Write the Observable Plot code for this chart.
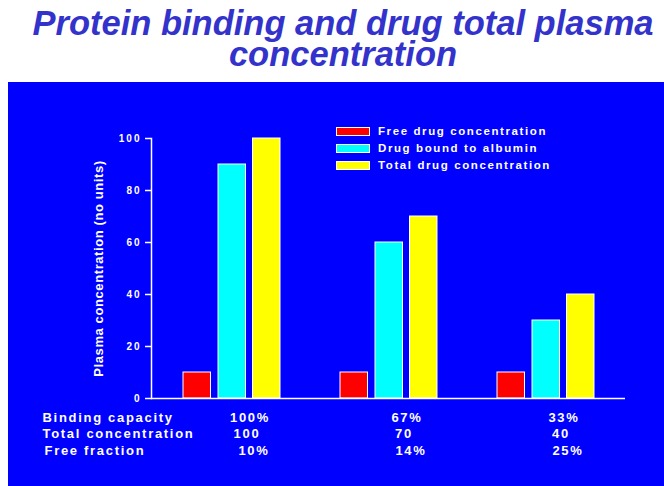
<!DOCTYPE html>
<html>
<head>
<meta charset="utf-8">
<script src="https://cdn.jsdelivr.net/npm/d3@7"></script>
<script src="https://cdn.jsdelivr.net/npm/@observablehq/plot@0.6"></script>
<style>
  html, body { margin: 0; padding: 0; background: #ffffff; }
  body { width: 664px; height: 486px; position: relative; overflow: hidden;
         font-family: "Liberation Sans", Arial, sans-serif; }
  #title { position: absolute; left: 22px; top: 7.5px; width: 642px; text-align: center;
           color: #3333cc; font-weight: bold; font-style: italic; font-size: 34.5px; line-height: 31px; }
  #panel { position: absolute; left: 8px; top: 82px; width: 656px; height: 404px; background: #0000ff; }
  #panel svg { display: block; }
  .swatch { position: absolute; width: 34px; height: 9px; box-sizing: border-box; border: 1px solid #ffffff; }
  .legend-label { position: absolute; height: 14px; line-height: 14px; color: #ffffff; font-weight: bold;
                  font-size: 11.5px; letter-spacing: 1.6px; white-space: nowrap; }
</style>
</head>
<body>
<div id="title">Protein binding and drug total plasma<br>concentration</div>
<div id="panel"></div>
<div id="legend"></div>
<script>
// Binding capacity of each scenario (also the x categories)
const bindingCapacity = ["100%", "67%", "33%"];
// Plasma concentrations per scenario
const freeDrug = [10, 10, 10];
const boundDrug = [90, 60, 30];
const totalDrug = [100, 70, 40];
const seriesNames = ["Free drug concentration", "Drug bound to albumin", "Total drug concentration"];
const seriesColors = ["#ff0000", "#00ffff", "#ffff00"];
const yTicks = [0, 20, 40, 60, 80, 100];
const yLabel = "Plasma concentration (no units)";
const rowLabels = ["Binding capacity", "Total concentration", "Free fraction"];

const seriesValues = [freeDrug, boundDrug, totalDrug];
const rows = bindingCapacity.flatMap((g, i) =>
  seriesNames.map((s, k) => ({group: g, series: s, value: seriesValues[k][i]})));

// Summary table under the bars, derived from the same values
const totalText = totalDrug.map(String);
const freeFractionText = freeDrug.map((f, i) => Math.round(100 * f / totalDrug[i]) + "%");
const tableRows = [bindingCapacity, totalText, freeFractionText];

// Layout constants
const barInsets = [[0, 69.5], [35, 34.5], [69.5, 0]];
const rowDy = [23, 39, 56];
const rowDx = [18, 15, 22];
const rowLabelDx = [-109, -109, -107];
const font = "'Liberation Sans', Arial, sans-serif";

const chart = Plot.plot({
  width: 656,
  height: 404,
  marginLeft: 143,
  marginRight: 39,
  marginTop: 56,
  marginBottom: 88,
  style: {background: "transparent", color: "white", fontFamily: font, fontWeight: "bold", overflow: "visible"},
  x: {domain: bindingCapacity, paddingInner: 0.384, paddingOuter: 0.197, axis: null},
  y: {domain: [0, 100], axis: null},
  color: {domain: seriesNames, range: seriesColors},
  marks: [
    ...seriesNames.map((s, k) => Plot.barY(rows.filter(d => d.series === s), {
      x: "group", y: "value", fill: "series", stroke: "white", strokeWidth: 1,
      insetLeft: barInsets[k][0], insetRight: barInsets[k][1]
    })),
    Plot.ruleY([0], {stroke: "white", strokeWidth: 1.5}),
    Plot.frame({anchor: "left", stroke: "white", strokeWidth: 1.5}),
    Plot.axisY({ticks: yTicks, tickSize: 6, tickPadding: 4, fontSize: 10, label: null,
                stroke: "white", strokeWidth: 1.5}),
    Plot.text([yLabel], {text: d => d, frameAnchor: "left", textAnchor: "middle", rotate: -90, dx: -52.5,
                         fontSize: 13, fontWeight: "bold", fill: "white"}),
    ...tableRows.map((vals, r) => Plot.text(
      bindingCapacity.map((g, i) => ({group: g, label: vals[i]})),
      {x: "group", text: "label", frameAnchor: "bottom", dx: rowDx[r], dy: rowDy[r],
       fontSize: 13, fontWeight: "bold", fill: "white"})),
    ...rowLabels.map((lab, r) => Plot.text([lab], {
      text: d => d, frameAnchor: "bottom-left", textAnchor: "start", dx: rowLabelDx[r], dy: rowDy[r],
      fontSize: 13, fontWeight: "bold", fill: "white"}))
  ]
});

// Letter spacing: wide for table, a little for ticks and the axis title
d3.select(chart).selectAll("text").style("letter-spacing", "1.7px");
d3.select(chart).selectAll('g[aria-label="y-axis tick label"] text').style("letter-spacing", "2px");
d3.select(chart).selectAll("text").filter(function () { return this.textContent === yLabel; })
  .style("letter-spacing", "0.6px");

document.getElementById("panel").appendChild(chart);

// Legend in the upper right of the panel
const legend = document.getElementById("legend");
const legendLeft = 336, legendTextLeft = 378, legendTop = 126.5, legendStep = 17;
seriesNames.forEach((name, k) => {
  const sw = document.createElement("div");
  sw.className = "swatch";
  sw.style.left = legendLeft + "px";
  sw.style.top = (legendTop + k * legendStep) + "px";
  sw.style.background = seriesColors[k];
  legend.appendChild(sw);
  const lab = document.createElement("div");
  lab.className = "legend-label";
  lab.style.left = legendTextLeft + "px";
  lab.style.top = (legendTop + k * legendStep - 2.5) + "px";
  lab.textContent = name;
  legend.appendChild(lab);
});
</script>
</body>
</html>
